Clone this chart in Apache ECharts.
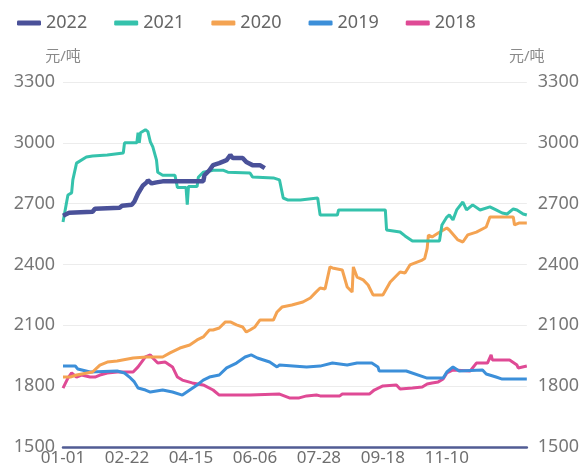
<!DOCTYPE html>
<html>
<head>
<meta charset="utf-8">
<script src="https://cdn.jsdelivr.net/npm/echarts@6/dist/echarts.min.js"></script>
<style>
html,body{margin:0;padding:0;background:#fff;}
#chart{width:582px;height:472px;}
</style>
</head>
<body>
<div id="chart"></div>
<script>
// x positions are day offsets from 01-01 on the chart's date axis
const tickLabels = ['01-01','02-22','04-15','06-06','07-28','09-18','11-10'];
const seriesNames = ['2022','2021','2020','2019','2018'];
const unitName = '元/吨';

const data2022 = [[0,2640],[5,2655],[24,2660],[26,2675],[46,2680],[48,2690],[56,2695],[58,2710],[61,2750],[65,2790],[68,2805],[69,2815],[72,2800],[76,2805],[81,2810],[114,2810],[115,2840],[119,2865],[122,2890],[127,2900],[133,2915],[136,2940],[138,2925],[146,2925],[149,2905],[154,2890],[160,2890],[164,2875]];

const data2021 = [[0,2610],[4,2743],[7,2753],[8,2817],[11,2900],[12,2906],[19,2930],[24,2935],[36,2940],[49,2950],[50,3000],[60,3000],[61,3050],[62,3000],[63,3050],[64,3055],[67,3065],[69,3055],[71,3005],[73,2980],[76,2915],[77,2855],[81,2840],[91,2840],[93,2780],[100,2780],[101,2695],[102,2785],[109,2785],[110,2830],[114,2855],[122,2865],[130,2865],[134,2855],[152,2851],[154,2832],[171,2827],[176,2817],[179,2728],[183,2718],[193,2718],[207,2728],[209,2644],[223,2644],[224,2669],[262,2669],[263,2570],[274,2560],[278,2541],[284,2516],[306,2516],[308,2595],[312,2634],[314,2644],[317,2620],[320,2669],[325,2708],[328,2669],[333,2694],[339,2669],[347,2684],[352,2669],[357,2654],[361,2649],[366,2674],[369,2669],[374,2649],[377,2644]];

const data2020 = [[0,1845],[6,1845],[11,1855],[24,1870],[30,1904],[36,1919],[44,1924],[57,1939],[68,1944],[81,1944],[87,1964],[95,1988],[103,2003],[109,2028],[114,2043],[119,2077],[122,2077],[127,2087],[132,2117],[136,2117],[141,2102],[146,2092],[149,2067],[152,2077],[156,2092],[160,2126],[171,2126],[174,2166],[178,2190],[186,2200],[195,2215],[201,2235],[205,2260],[209,2284],[213,2279],[217,2388],[219,2383],[227,2373],[231,2289],[235,2264],[236,2388],[239,2338],[244,2324],[248,2299],[252,2250],[260,2250],[266,2314],[274,2363],[278,2358],[282,2398],[292,2422],[294,2430],[296,2480],[297,2545],[300,2536],[305,2555],[312,2580],[314,2570],[321,2521],[325,2511],[329,2546],[336,2560],[344,2585],[347,2634],[366,2634],[367,2595],[371,2605],[377,2605]];

const data2019 = [[0,1899],[10,1899],[12,1885],[22,1870],[44,1875],[50,1865],[54,1845],[58,1821],[61,1791],[67,1781],[71,1771],[81,1781],[89,1771],[97,1756],[103,1781],[109,1806],[114,1830],[119,1845],[127,1855],[133,1890],[141,1914],[148,1944],[153,1954],[158,1939],[168,1919],[174,1895],[176,1904],[198,1895],[209,1899],[219,1914],[231,1904],[239,1914],[251,1914],[256,1895],[257,1875],[279,1875],[296,1840],[309,1840],[312,1870],[317,1895],[322,1875],[341,1880],[344,1860],[352,1845],[357,1835],[377,1835]];

const data2018 = [[0,1790],[4,1840],[7,1865],[11,1845],[15,1855],[22,1845],[26,1845],[30,1855],[36,1865],[44,1870],[57,1870],[61,1895],[67,1944],[71,1954],[73,1939],[77,1914],[83,1919],[89,1895],[93,1845],[97,1830],[105,1816],[114,1806],[122,1781],[127,1756],[152,1756],[176,1761],[184,1742],[192,1742],[198,1752],[206,1756],[209,1752],[225,1752],[227,1761],[249,1761],[253,1781],[260,1801],[271,1806],[274,1786],[284,1791],[292,1796],[296,1811],[300,1816],[305,1821],[309,1835],[312,1865],[317,1880],[331,1875],[336,1914],[345,1914],[348,1954],[349,1929],[363,1929],[369,1904],[370,1890],[377,1899]];

const allData = [data2022, data2021, data2020, data2019, data2018];
const colors = ['#4a5199','#35c2ac','#f4a352','#3c8fd9','#df4a95'];
const widths = [4.5, 3, 3, 3, 3];

const FONT = '"Noto Sans", "Noto Sans CJK SC", sans-serif';

const chart = echarts.init(document.getElementById('chart'), null, {renderer:'canvas'});

function yAxisDef(pos){
  return {
    type:'value', position:pos, min:1500, max:3300, interval:300,
    name: unitName, nameLocation:'end', nameGap:18,
    nameTextStyle:{color:'#8a8a8a', fontSize:15, fontFamily:FONT},
    axisLine:{show:false}, axisTick:{show:false},
    axisLabel:{color:'#777', fontSize:18, fontFamily:FONT, margin: pos==='left'?8:11,
      formatter:function(v){ return String(v); }},
    splitLine:{show: pos==='left', lineStyle:{color:'#ececec', width:1}}
  };
}

chart.setOption({
  animation:false,
  color: colors,
  legend:{
    data: seriesNames,
    left:12, top:9,
    icon:'roundRect', itemWidth:24, itemHeight:5, itemGap:27,
    textStyle:{color:'#666', fontSize:18, fontFamily:FONT}
  },
  grid:{left:63, right:55, top:82, bottom:25, containLabel:false},
  xAxis:{
    type:'value', min:0, max:377, interval:52,
    axisLine:{show:true, onZero:false, lineStyle:{color:'#515c94', width:2.5}},
    axisTick:{show:false},
    splitLine:{show:false},
    axisLabel:{
      color:'#6e6e6e', fontSize:17, fontFamily:FONT, margin:3,
      showMaxLabel:false,
      formatter:function(v){ const i = v/52; return (Number.isInteger(i) && tickLabels[i]) ? tickLabels[i] : ''; }
    }
  },
  yAxis:[yAxisDef('left'), yAxisDef('right')],
  series: seriesNames.map(function(n,i){
    return {
      name:n, type:'line', data: allData[i], showSymbol:false, symbol:'none',
      lineStyle:{width:widths[i], color:colors[i]},
      itemStyle:{color:colors[i]},
      z: 10 - i
    };
  })
});
</script>
</body>
</html>
